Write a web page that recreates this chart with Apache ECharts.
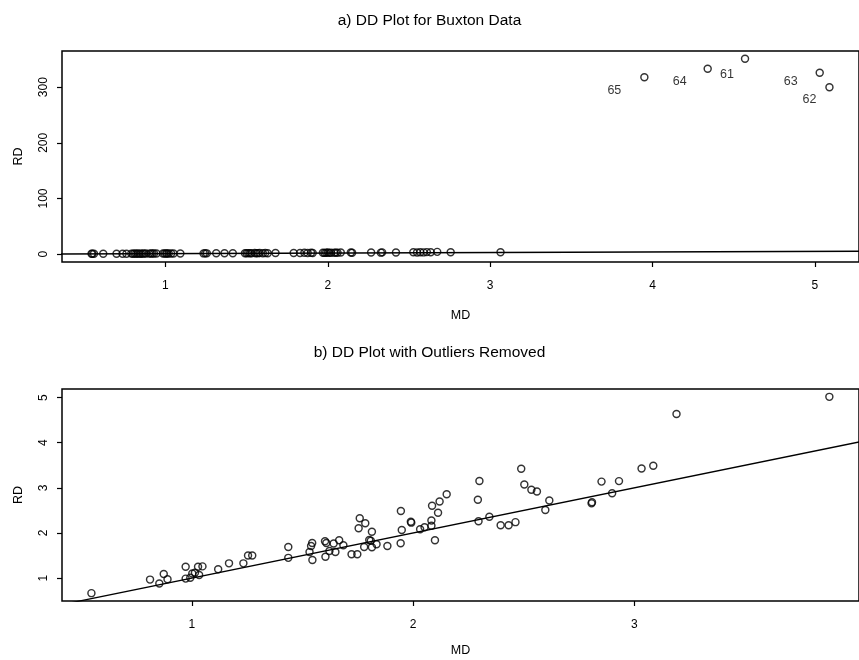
<!DOCTYPE html>
<html>
<head>
<meta charset="utf-8">
<script src="https://cdn.jsdelivr.net/npm/echarts@6/dist/echarts.min.js"></script>
<style>html,body{margin:0;padding:0;background:#fff}#c{width:859px;height:660px}</style>
</head>
<body>
<div id="c"></div>
<script>
// ---- data: panel a (all cases) ----
const topCleanMD = [0.545,0.55,0.56,0.617,0.699,0.736,0.760,0.79,0.80,0.81,0.82,0.83,0.84,0.85,0.86,0.87,0.88,0.90,0.91,0.92,0.93,0.945,0.985,0.995,1.005,1.01,1.02,1.035,1.05,1.092,1.235,1.245,1.255,1.313,1.364,1.415,1.49,1.50,1.51,1.52,1.53,1.55,1.56,1.57,1.58,1.60,1.615,1.63,1.678,1.790,1.829,1.856,1.876,1.897,1.907,1.97,1.98,1.99,2.00,2.01,2.02,2.04,2.05,2.06,2.08,2.142,2.15,2.267,2.327,2.335,2.42,2.527,2.55,2.57,2.59,2.61,2.634,2.674,2.757,3.064];
const topCleanRD = [0.70,0.66,0.72,0.78,0.85,0.92,0.88,1.05,0.95,1.10,0.98,1.12,1.02,0.96,1.15,1.08,1.20,1.05,1.25,1.12,1.18,1.30,1.10,1.22,1.15,1.28,1.20,1.35,1.25,1.40,1.45,1.60,1.52,1.55,1.70,1.65,1.80,1.62,1.95,1.75,1.85,2.05,1.70,1.90,2.10,1.88,2.00,1.78,2.15,2.30,2.05,2.60,2.20,2.45,2.25,2.70,2.35,2.50,2.90,2.40,2.65,2.55,2.85,2.45,3.00,3.10,2.75,2.95,2.80,3.30,2.90,3.45,3.10,3.60,3.25,3.75,3.40,4.20,3.50,3.60];
const outlierMD = [3.95,4.34,4.57,5.03,5.09];
const outlierRD = [317.7,333,351,326,300];
const outlierLabels = ['65','64','61','63','62'];
const topXTicks = [1,2,3,4,5];
const topYTicks = [0,100,200,300];

// ---- data: panel b (outliers removed) ----
const botMD = [0.546,0.811,0.853,0.873,0.890,0.972,0.972,0.993,1.002,1.014,1.028,1.033,1.048,1.119,1.168,1.233,1.254,1.273,1.436,1.436,1.532,1.539,1.544,1.545,1.602,1.608,1.604,1.622,1.641,1.649,1.666,1.685,1.722,1.748,1.759,1.754,1.784,1.779,1.814,1.802,1.809,1.814,1.835,1.884,1.945,1.949,1.944,1.990,1.992,2.032,2.052,2.083,2.083,2.086,2.099,2.113,2.120,2.152,2.293,2.300,2.296,2.345,2.396,2.432,2.463,2.489,2.503,2.535,2.560,2.598,2.616,2.809,2.807,2.852,2.900,2.931,3.033,3.086,3.191,3.882];
const botRD = [0.667,0.967,0.882,1.093,0.973,1.251,0.989,1.009,1.104,1.118,1.251,1.067,1.260,1.196,1.327,1.327,1.500,1.500,1.689,1.449,1.578,1.711,1.778,1.400,1.818,1.778,1.473,1.600,1.767,1.578,1.840,1.729,1.527,1.527,2.327,2.104,2.216,1.689,2.029,1.844,1.829,1.682,1.749,1.711,2.489,2.067,1.771,2.249,2.229,2.084,2.129,2.278,2.160,2.604,1.840,2.449,2.696,2.860,2.738,3.151,2.260,2.360,2.171,2.171,2.240,3.422,3.073,2.956,2.918,2.511,2.718,2.682,2.656,3.138,2.882,3.149,3.429,3.489,4.638,5.016];
const botXTicks = [1,2,3];
const botYTicks = [1,2,3,4,5];

// identity reference line RD = MD
const identityLine = [[0,0],[6,6]];

// ---- styling ----
const FONT = "'Liberation Sans', Arial, Helvetica, sans-serif";
const outlierLabelOffsets = [[-30,13],[-28,13],[-18,16],[-29,8.5],[-20,12]];
const pts = (xs, ys) => xs.map((x, i) => [x, ys[i]]);
const circleStyle = {color: 'rgba(255,255,255,0)', borderColor: '#000', borderWidth: 1.45};

function xAxisCfg(idx, min, max, ticks, gap) {
  return {
    type: 'value', gridIndex: idx, min: min, max: max,
    name: 'MD', nameLocation: 'middle', nameGap: gap,
    nameTextStyle: {fontFamily: FONT, fontSize: 12.5, color: '#000'},
    axisLine: {show: false, onZero: false},
    axisTick: {show: true, length: 5, customValues: ticks, lineStyle: {color: '#000', width: 1.2}},
    axisLabel: {customValues: ticks, margin: 18, fontFamily: FONT, fontSize: 12, color: '#000'},
    splitLine: {show: false}
  };
}
function yAxisCfg(idx, min, max, ticks) {
  return {
    type: 'value', gridIndex: idx, min: min, max: max,
    name: 'RD', nameLocation: 'middle', nameGap: 37,
    nameTextStyle: {fontFamily: FONT, fontSize: 12.5, color: '#000'},
    axisLine: {show: false, onZero: false},
    axisTick: {show: true, length: 5, customValues: ticks, lineStyle: {color: '#000', width: 1.2}},
    axisLabel: {customValues: ticks, rotate: 90, margin: 12, fontFamily: FONT, fontSize: 12, color: '#000'},
    splitLine: {show: false}
  };
}

const chart = echarts.init(document.getElementById('c'), null, {renderer: 'canvas'});
chart.setOption({
  animation: false,
  backgroundColor: '#fff',
  title: [
    {text: 'a) DD Plot for Buxton Data', left: 'center', top: 8,
     textStyle: {fontFamily: FONT, fontSize: 15.5, fontWeight: 'normal', color: '#000'}},
    {text: 'b) DD Plot with Outliers Removed', left: 'center', top: 340,
     textStyle: {fontFamily: FONT, fontSize: 15.5, fontWeight: 'normal', color: '#000'}}
  ],
  grid: [
    {left: 62, top: 51, width: 800, height: 211, show: true, borderColor: '#000', borderWidth: 1.5},
    {left: 62, top: 389, width: 799, height: 212, show: true, borderColor: '#000', borderWidth: 1.5}
  ],
  xAxis: [xAxisCfg(0, 0.363, 5.272, topXTicks, 47), xAxisCfg(1, 0.413, 4.016, botXTicks, 43)],
  yAxis: [yAxisCfg(0, -14, 365, topYTicks), yAxisCfg(1, 0.493, 5.19, botYTicks)],
  series: [
    {type: 'line', xAxisIndex: 0, yAxisIndex: 0, data: identityLine, symbol: 'none', clip: true,
     lineStyle: {color: '#000', width: 1.3}, silent: true},
    {type: 'scatter', xAxisIndex: 0, yAxisIndex: 0, data: pts(topCleanMD, topCleanRD),
     symbol: 'circle', symbolSize: 7, itemStyle: circleStyle, silent: true},
    {type: 'scatter', xAxisIndex: 0, yAxisIndex: 0,
     data: outlierMD.map((x, i) => ({value: [x, outlierRD[i]],
       label: {show: true, formatter: outlierLabels[i], position: 'inside', offset: outlierLabelOffsets[i],
               fontFamily: FONT, fontSize: 12.5, color: '#000'}})),
     symbol: 'circle', symbolSize: 7, itemStyle: circleStyle, silent: true},
    {type: 'line', xAxisIndex: 1, yAxisIndex: 1, data: identityLine, symbol: 'none', clip: true,
     lineStyle: {color: '#000', width: 1.3}, silent: true},
    {type: 'scatter', xAxisIndex: 1, yAxisIndex: 1, data: pts(botMD, botRD),
     symbol: 'circle', symbolSize: 7, itemStyle: circleStyle, silent: true}
  ]
});
</script>
</body>
</html>
